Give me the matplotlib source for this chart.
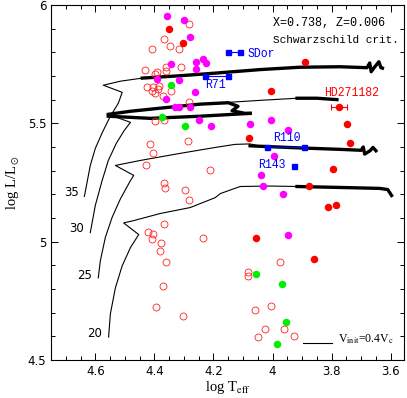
import matplotlib
matplotlib.use('Agg')
import matplotlib.pyplot as plt

plt.rcParams['mathtext.fontset'] = 'stix'

# observed stars: log Teff, log L/Lsun
mag_T = [4.356, 4.299, 4.280, 4.343, 4.258, 4.235, 4.225, 4.259, 4.391, 4.315, 4.262,
         4.360, 4.329, 4.315, 4.281, 4.248, 4.208, 4.076, 4.006, 3.947, 3.995, 4.039,
         4.031, 3.966, 3.947]
mag_L = [5.953, 5.936, 5.864, 5.751, 5.760, 5.772, 5.753, 5.728, 5.688, 5.683, 5.631,
         5.602, 5.571, 5.571, 5.571, 5.513, 5.487, 5.496, 5.516, 5.470, 5.363, 5.281,
         5.237, 5.202, 5.028]

red_T = [4.352, 4.303, 3.889, 4.005, 3.748, 4.079, 3.738, 3.797, 3.877, 3.811, 3.786,
         4.056, 3.859]
red_L = [5.900, 5.838, 5.758, 5.637, 5.496, 5.439, 5.417, 5.306, 5.237, 5.145, 5.156,
         5.016, 4.927]

grn_T = [4.344, 4.373, 4.298, 4.056, 3.967, 3.955, 3.985]
grn_L = [5.660, 5.527, 5.488, 4.863, 4.823, 4.662, 4.567]

open_T = [4.284, 4.369, 4.346, 4.317, 4.408, 4.431, 4.391, 4.360, 4.360, 4.310, 4.397,
          4.425, 4.403, 4.386, 4.408, 4.397, 4.389, 4.344, 4.372, 4.284, 4.397, 4.367,
          4.414, 4.403, 4.286, 4.427, 4.211, 4.367, 4.363, 4.295, 4.284, 4.369, 4.420,
          4.405, 4.408, 4.377, 4.237, 4.382, 4.360, 4.372, 4.395, 4.303, 3.975, 4.082,
          4.082, 4.059, 4.006, 4.025, 4.048, 3.960, 3.926]
open_L = [5.918, 5.856, 5.828, 5.812, 5.814, 5.725, 5.717, 5.719, 5.739, 5.739, 5.708,
          5.654, 5.654, 5.657, 5.637, 5.628, 5.643, 5.637, 5.616, 5.590, 5.510, 5.516,
          5.414, 5.376, 5.424, 5.325, 5.301, 5.248, 5.228, 5.220, 5.176, 5.075, 5.039,
          5.033, 5.011, 4.996, 5.016, 4.959, 4.915, 4.814, 4.726, 4.686, 4.912, 4.870,
          4.856, 4.712, 4.730, 4.630, 4.599, 4.630, 4.602]

# HD271182 with horizontal error bar
hd_T, hd_L, hd_err = 3.774, 5.567, 0.027

# LBVs (blue squares, pairs joined)
lbv_names = ['SDor', 'R71', 'R110', 'R143']
lbv_T = [[4.150, 4.109], [4.228, 4.150], [4.020, 3.894], [3.926]]
lbv_L = [[5.800, 5.800], [5.699, 5.699], [5.400, 5.400], [5.319]]
lbv_lab_T = [4.086, 4.228, 3.998, 4.049]
lbv_lab_L = [5.792, 5.661, 5.436, 5.322]

# evolutionary tracks (thin part, thick part)
trk_masses = ['35', '30', '25', '20']
trk_lab_T = [4.657, 4.637, 4.610, 4.576]
trk_lab_L = [5.208, 5.054, 4.859, 4.613]

t35_T = [4.637, 4.630, 4.617, 4.600, 4.576, 4.549, 4.522, 4.509, 4.573, 4.515, 4.441]
t35_L = [5.191, 5.237, 5.322, 5.394, 5.462, 5.530, 5.585, 5.631, 5.661, 5.678, 5.691]
t35k_T = [4.441, 4.313, 4.194, 4.042, 3.907, 3.772, 3.680, 3.671, 3.666, 3.655, 3.640,
          3.633, 3.628]
t35k_L = [5.691, 5.701, 5.712, 5.727, 5.737, 5.739, 5.735, 5.755, 5.718, 5.737, 5.760,
          5.735, 5.733]

t30_T = [4.617, 4.600, 4.577, 4.556, 4.529, 4.502, 4.481, 4.556]
t30_L = [5.038, 5.153, 5.258, 5.343, 5.415, 5.470, 5.504, 5.538]
t30u_T = [4.245, 4.144, 4.042, 3.917]
t30u_L = [5.581, 5.589, 5.597, 5.606]
t30k1_T = [4.556, 4.480, 4.380, 4.245, 4.150, 4.117, 4.137, 4.093, 4.076]
t30k1_L = [5.538, 5.551, 5.564, 5.581, 5.587, 5.572, 5.553, 5.542, 5.542]
t30k2_T = [4.556, 4.414, 4.245, 4.076]
t30k2_L = [5.530, 5.521, 5.530, 5.542]
t30k3_T = [3.917, 3.850, 3.782]
t30k3_L = [5.606, 5.606, 5.600]

t25_T = [4.590, 4.583, 4.566, 4.543, 4.515, 4.481, 4.470, 4.532, 4.448, 4.313, 4.194,
         4.127, 4.076, 4.042]
t25_L = [4.847, 4.919, 5.018, 5.103, 5.181, 5.258, 5.280, 5.322, 5.343, 5.373, 5.398,
         5.411, 5.413, 5.403]
t25k_T = [4.076, 4.042, 3.907, 3.772, 3.700, 3.693, 3.688, 3.670, 3.660, 3.650]
t25k_L = [5.405, 5.403, 5.396, 5.390, 5.386, 5.400, 5.370, 5.384, 5.398, 5.384]

t20_T = [4.555, 4.549, 4.532, 4.509, 4.481, 4.453, 4.504, 4.470, 4.380, 4.279, 4.194,
         4.177, 4.110, 4.008, 3.917]
t20_L = [4.597, 4.695, 4.805, 4.898, 4.975, 5.030, 5.079, 5.089, 5.119, 5.144, 5.186,
         5.203, 5.233, 5.235, 5.233]
t20k_T = [3.917, 3.772, 3.637, 3.610, 3.597]
t20k_L = [5.233, 5.229, 5.225, 5.220, 5.195]

fig = plt.figure(figsize=(4.07, 3.98), dpi=100)
ax = fig.add_axes([0.1253, 0.0955, 0.8673, 0.892])

thin, thick = 0.8, 2.4
ax.plot(t35_T, t35_L, 'k-', lw=thin)
ax.plot(t35k_T, t35k_L, 'k-', lw=thick)
ax.plot(t30_T, t30_L, 'k-', lw=thin)
ax.plot(t30u_T, t30u_L, 'k-', lw=thin)
ax.plot(t30k1_T, t30k1_L, 'k-', lw=thick)
ax.plot(t30k2_T, t30k2_L, 'k-', lw=thick)
ax.plot(t30k3_T, t30k3_L, 'k-', lw=thick)
ax.plot(t25_T, t25_L, 'k-', lw=thin)
ax.plot(t25k_T, t25k_L, 'k-', lw=thick)
ax.plot(t20_T, t20_L, 'k-', lw=thin)
ax.plot(t20k_T, t20k_L, 'k-', lw=thick)

for m, x, y in zip(trk_masses, trk_lab_T, trk_lab_L):
    ax.text(x, y, m, ha='right', va='center', fontsize=8.5, family='DejaVu Sans')

ax.plot(open_T, open_L, 'o', ms=5.0, mfc='none', mec='#ff2020', mew=0.6)
ax.plot(mag_T, mag_L, 'o', ms=5.4, color='#ff00ff', mec='none')
ax.plot(red_T, red_L, 'o', ms=5.4, color='#ff0000', mec='none')
ax.plot(grn_T, grn_L, 'o', ms=5.4, color='#00ee00', mec='none')
ax.errorbar([hd_T], [hd_L], xerr=[hd_err], fmt='o', ms=5.4, color='#ff0000',
            mec='none', elinewidth=0.8, capsize=2.5, capthick=0.8)

mono = 'Liberation Mono'
for n, xs, ys, lx, ly in zip(lbv_names, lbv_T, lbv_L, lbv_lab_T, lbv_lab_L):
    ax.plot(xs, ys, 's-', color='#0000ff', ms=3.6, lw=0.8)
    ax.text(lx, ly, n, color='#0000ff', ha='left', va='center', fontsize=8.3, family=mono)
ax.text(3.826, 5.627, 'HD271182', color='#ff0000', ha='left', va='center',
        fontsize=8.3, family=mono)

ax.text(3.999, 5.922, 'X=0.738, Z=0.006', ha='left', va='center', fontsize=8.5, family=mono)
ax.text(3.998, 5.852, 'Schwarzschild crit.', ha='left', va='center', fontsize=7.9, family=mono)

ax.plot([3.898, 3.800], [4.573, 4.573], 'k-', lw=0.8)
ax.text(3.779, 4.588, r'V$_{\rm init}$=0.4V$_{\rm c}$', ha='left', va='center',
        fontsize=8.5, family='Liberation Serif')

ax.set_xlim(4.75, 3.555)
ax.set_ylim(4.5, 6.0)
ax.set_xticks([4.6, 4.4, 4.2, 4.0, 3.8, 3.6])
ax.set_xticklabels(['4.6', '4.4', '4.2', '4', '3.8', '3.6'])
ax.set_xticks([4.75 - 0.05 * i for i in range(24)], minor=True)
ax.set_yticks([4.5, 5.0, 5.5, 6.0])
ax.set_yticklabels(['4.5', '5', '5.5', '6'])
ax.set_yticks([4.5 + 0.1 * i for i in range(16)], minor=True)
ax.tick_params(which='both', direction='in', top=True, right=True, labelsize=8.5,
               width=0.7)
ax.tick_params(which='major', length=5)
ax.tick_params(which='minor', length=3)
for s in ax.spines.values():
    s.set_linewidth(0.8)

ax.set_xlabel(r'log T$_{\rm eff}$', fontsize=10.5, family='Liberation Serif', labelpad=1)
ax.set_ylabel(r'log L/L$_\odot$', fontsize=10.5, family='Liberation Serif', labelpad=5)

fig.savefig('out.png', dpi=100)
